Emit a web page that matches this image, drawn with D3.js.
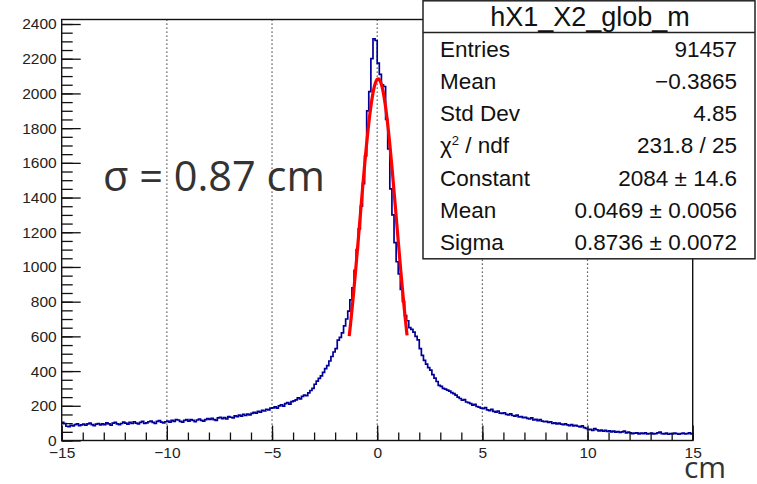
<!DOCTYPE html>
<html>
<head>
<meta charset="utf-8">
<title>hX1_X2_glob_m</title>
<script src="https://d3js.org/d3.v7.min.js"></script>
<style>
  body { margin: 0; background: #fff; }
  svg { display: block; }
  .tick text { font-family: "Liberation Sans", Arial, sans-serif; font-size: 15.5px; fill: #222; }
  .stat { font-family: "Liberation Sans", Arial, sans-serif; fill: #111; }
</style>
</head>
<body>
<div id="chart"></div>
<script>
// histogram: 300 bins of 0.1 cm from -15 to 15
const binLo = -15, binWidth = 0.1;
const counts = [
  104, 98, 82, 80, 88, 84, 92, 96, 86, 90,
  94, 88, 96, 100, 92, 86, 94, 98, 90, 96,
  92, 102, 96, 88, 100, 104, 96, 92, 98, 106,
  100, 94, 104, 98, 108, 100, 96, 104, 110, 98,
  102, 108, 112, 104, 98, 110, 114, 106, 102, 108,
  112, 106, 116, 110, 120, 118, 110, 106, 116, 120,
  112, 120, 116, 108, 118, 124, 116, 112, 120, 126,
  122, 128, 120, 116, 130, 134, 126, 132, 124, 138,
  134, 130, 142, 138, 146, 140, 150, 144, 152, 148,
  156, 162, 158, 168, 164, 174, 170, 180, 176, 186,
  188, 194, 186, 200, 206, 198, 212, 218, 210, 224,
  228, 234, 246, 240, 254, 262, 258, 274, 288, 300,
  324, 342, 358, 372, 392, 414, 432, 458, 484, 510,
  530, 578, 594, 620, 660, 700, 745, 810, 880, 980,
  1100, 1220, 1350, 1480, 1640, 1900, 2010, 2200, 2315, 2305,
  2175, 2110, 2050, 2040, 1850, 1680, 1450, 1300, 1140, 1030,
  960, 870, 800, 720, 690, 650, 640, 625, 600, 580,
  530, 490, 462, 440, 420, 405, 380, 360, 340, 318,
  312, 300, 296, 290, 284, 276, 270, 262, 250, 242,
  232, 236, 222, 218, 212, 204, 208, 196, 192, 186,
  184, 190, 176, 172, 180, 168, 164, 170, 158, 156,
  160, 150, 148, 154, 144, 140, 146, 136, 138, 132,
  134, 128, 124, 130, 118, 122, 114, 120, 112, 108,
  110, 104, 108, 98, 102, 96, 100, 94, 92, 96,
  90, 86, 92, 84, 88, 82, 78, 84, 74, 70,
  62, 64, 58, 68, 62, 56, 60, 54, 58, 52,
  56, 50, 54, 48, 52, 46, 50, 54, 44, 48,
  44, 40, 42, 44, 38, 42, 40, 44, 38, 40,
  42, 38, 40, 44, 48, 40, 38, 42, 36, 40,
  38, 42, 40, 36, 40, 42, 38, 40, 44, 38
];

// gaussian fit parameters (from the stats box)
const fitConst = 2084, fitMean = 0.0469, fitSigma = 0.8736;
const fitRange = [-1.33, 1.42];

const xTicks = [-15, -10, -5, 0, 5, 10, 15];
const yTicks = [0, 200, 400, 600, 800, 1000, 1200, 1400, 1600, 1800, 2000, 2200, 2400];
const gridX = [-10, -5, 0, 5, 10];

const statTitle = "hX1_X2_glob_m";
const statLabels = ["Entries", "Mean", "Std Dev", "chi2", "Constant", "Mean", "Sigma"];
const statValues = ["91457", "\u22120.3865", "4.85", "231.8 / 25", "2084 \u00b1 14.6", "0.0469 \u00b1 0.0056", "0.8736 \u00b1 0.0072"];

const W = 757, H = 484;
const pLeft = 61.7, pRight = 692.7, pTop = 19.5, pBottom = 440.5;

const svg = d3.select("#chart").append("svg")
    .attr("width", W)
    .attr("height", H);

const x = d3.scaleLinear().domain([-15, 15]).range([pLeft, pRight]);
const y = d3.scaleLinear().domain([0, 2426]).range([pBottom, pTop]);

// dotted vertical grid
svg.append("g").selectAll("line")
    .data(gridX).enter()
    .append("line")
    .attr("x1", d => x(d)).attr("x2", d => x(d))
    .attr("y1", pTop).attr("y2", pBottom)
    .attr("stroke", "#333")
    .attr("stroke-width", 1.2)
    .attr("stroke-dasharray", "1.3,2.7");

// histogram as steps
const pts = counts.map((c, i) => [binLo + i * binWidth, c]);
pts.push([binLo + counts.length * binWidth, counts[counts.length - 1]]);
const step = d3.line()
    .x(d => x(d[0]))
    .y(d => y(d[1]))
    .curve(d3.curveStepAfter);
svg.append("path")
    .datum(pts)
    .attr("d", step)
    .attr("fill", "none")
    .attr("stroke", "#000099")
    .attr("stroke-width", 1.7);

// fitted gaussian
const fitPts = d3.range(0, 101).map(k => {
  const xv = fitRange[0] + (fitRange[1] - fitRange[0]) * k / 100;
  return [xv, fitConst * Math.exp(-0.5 * Math.pow((xv - fitMean) / fitSigma, 2))];
});
svg.append("path")
    .datum(fitPts)
    .attr("d", d3.line().x(d => x(d[0])).y(d => y(d[1])))
    .attr("fill", "none")
    .attr("stroke", "#ff0000")
    .attr("stroke-width", 3.2);

// axes, ROOT style ticks pointing inward
const yMinor = d3.range(0, 2401, 50);
svg.append("g")
    .attr("transform", "translate(" + pLeft + ",0)")
    .call(d3.axisLeft(y).tickValues(yMinor).tickSize(-11).tickSizeOuter(0).tickFormat(""))
    .call(g => g.select(".domain").remove())
    .call(g => g.selectAll("line").attr("stroke", "#111").attr("stroke-width", 1.3));
svg.append("g")
    .attr("transform", "translate(" + pLeft + ",0)")
    .call(d3.axisLeft(y).tickValues(yTicks).tickSize(-19).tickSizeOuter(0).tickPadding(5)
      .tickFormat(d3.format("d")))
    .call(g => g.select(".domain").remove())
    .call(g => g.selectAll("line").attr("stroke", "#111").attr("stroke-width", 1.3));

const xMinor = d3.range(-15, 16, 1);
svg.append("g")
    .attr("transform", "translate(0," + pBottom + ")")
    .call(d3.axisBottom(x).tickValues(xMinor).tickSize(-8).tickSizeOuter(0).tickFormat(""))
    .call(g => g.select(".domain").remove())
    .call(g => g.selectAll("line").attr("stroke", "#111").attr("stroke-width", 1.3));
svg.append("g")
    .attr("transform", "translate(0," + pBottom + ")")
    .call(d3.axisBottom(x).tickValues(xTicks).tickSize(-15).tickSizeOuter(0).tickPadding(6)
      .tickFormat(d => d < 0 ? "\u2212" + Math.abs(d) : String(d)))
    .call(g => g.select(".domain").remove())
    .call(g => g.selectAll("line").attr("stroke", "#111").attr("stroke-width", 1.3));

// frame
svg.append("rect")
    .attr("x", pLeft).attr("y", pTop)
    .attr("width", pRight - pLeft).attr("height", pBottom - pTop)
    .attr("fill", "none")
    .attr("stroke", "#111")
    .attr("stroke-width", 1.4);

// stats box
const bx = 423, by = 0.8, bw = 332, bh = 258, titleH = 31.7;
const box = svg.append("g");
box.append("rect")
    .attr("x", bx).attr("y", by).attr("width", bw).attr("height", bh)
    .attr("fill", "#fff").attr("stroke", "#222").attr("stroke-width", 1.5);
box.append("line")
    .attr("x1", bx).attr("x2", bx + bw)
    .attr("y1", by + titleH).attr("y2", by + titleH)
    .attr("stroke", "#222").attr("stroke-width", 1.5);
box.append("text")
    .attr("class", "stat")
    .attr("x", bx + bw / 2 + 1).attr("y", 26)
    .attr("text-anchor", "middle")
    .style("font-size", "27px")
    .text(statTitle);

const rowH = (bh - titleH) / statLabels.length;
statLabels.forEach((lab, i) => {
  const yy = by + titleH + rowH * i + 24;
  const t = box.append("text")
      .attr("class", "stat")
      .attr("x", 440).attr("y", yy)
      .style("font-size", "22.5px");
  if (lab === "chi2") {
    t.append("tspan").text("\u03c7");
    t.append("tspan").attr("dy", -8).style("font-size", "13px").text("2");
    t.append("tspan").attr("dy", 8).text(" / ndf");
  } else {
    t.text(lab);
  }
  box.append("text")
      .attr("class", "stat")
      .attr("x", 737).attr("y", yy)
      .attr("text-anchor", "end")
      .style("font-size", "22.5px")
      .text(statValues[i]);
});

// annotations
svg.append("text")
    .attr("x", 103).attr("y", 191)
    .style("font-family", "'Open Sans', sans-serif")
    .style("font-size", "41.5px")
    .attr("fill", "#333")
    .text("\u03c3 = 0.87 cm");

svg.append("text")
    .attr("x", 684).attr("y", 478)
    .style("font-family", "'Open Sans', sans-serif")
    .style("font-size", "30px")
    .attr("fill", "#333")
    .text("cm");
</script>
</body>
</html>
